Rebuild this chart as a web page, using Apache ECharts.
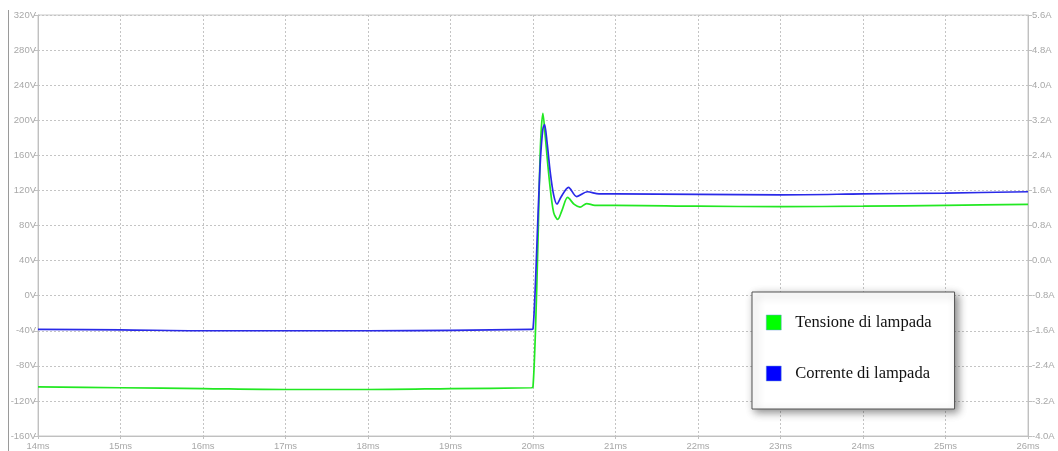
<!DOCTYPE html>
<html>
<head>
<meta charset="utf-8">
<script src="https://cdn.jsdelivr.net/npm/echarts@6/dist/echarts.min.js"></script>
<style>html,body{margin:0;padding:0;background:#fff;}#c{width:1058px;height:451px;}</style>
</head>
<body>
<div id="c"></div>
<script>
// Tensione di lampada (time in ms, voltage in V)
var tVolt = [14, 15, 16, 17, 18, 19, 19.98, 20.0, 20.03, 20.06, 20.09, 20.12, 20.15, 20.2, 20.25, 20.3, 20.35, 20.42, 20.5, 20.57, 20.65, 20.75, 21, 22, 23, 24, 25, 26];
var volt  = [-104, -105, -106, -107, -107, -106, -105, -104, -40, 60, 170, 208, 180, 130, 95, 87, 97, 112, 104, 101, 105, 103, 103, 102, 101.5, 102, 103, 104];
// Corrente di lampada (time in ms, current in A)
var tCurr = [14, 15, 16, 17, 18, 19, 19.98, 20.0, 20.03, 20.06, 20.09, 20.12, 20.14, 20.17, 20.21, 20.25, 20.29, 20.34, 20.43, 20.53, 20.66, 20.8, 21, 22, 23, 24, 25, 26];
var curr  = [-1.57, -1.58, -1.6, -1.6, -1.6, -1.59, -1.57, -1.56, -0.5, 1.0, 2.3, 3.0, 3.1, 2.7, 2.0, 1.5, 1.29, 1.45, 1.67, 1.46, 1.57, 1.52, 1.52, 1.51, 1.5, 1.52, 1.54, 1.57];
var seriesNames = ['Tensione di lampada', 'Corrente di lampada'];

function pairs(t, v) { return t.map(function (x, i) { return [x, v[i]]; }); }

var chart = echarts.init(document.getElementById('c'));
var labelStyle = { color: '#a8a8a8', fontSize: 9.5, fontFamily: 'Liberation Sans' };
var split = { show: true, lineStyle: { color: '#c4c4c4', type: [2, 2], width: 1 } };
chart.setOption({
  animation: false,
  backgroundColor: '#fff',
  grid: { left: 38, right: 30, top: 15, bottom: 13, show: true, borderColor: '#c8c8c8', borderWidth: 1 },
  xAxis: {
    type: 'value', min: 14, max: 26, interval: 1,
    axisLine: { show: true, onZero: false, lineStyle: { color: '#c0c0c0' } },
    axisTick: { show: true, length: 3, lineStyle: { color: '#c0c0c0' } },
    axisLabel: Object.assign({ formatter: '{value}ms', margin: 5 }, labelStyle),
    splitLine: split
  },
  yAxis: [{
    type: 'value', min: -160, max: 320, interval: 40, position: 'left',
    axisLine: { show: true, onZero: false, lineStyle: { color: '#c0c0c0' } },
    axisTick: { show: true, length: 4, lineStyle: { color: '#c0c0c0' } },
    axisLabel: Object.assign({ formatter: '{value}V', margin: 2 }, labelStyle),
    splitLine: split
  }, {
    type: 'value', min: -4.0, max: 5.6, interval: 0.8, position: 'right',
    axisLine: { show: true, onZero: false, lineStyle: { color: '#c0c0c0' } },
    axisTick: { show: true, length: 4, lineStyle: { color: '#c0c0c0' } },
    axisLabel: Object.assign({ formatter: function (v) { return v.toFixed(1) + 'A'; }, margin: 4 }, labelStyle),
    splitLine: { show: false }
  }],
  legend: {
    orient: 'vertical', left: 752, top: 292,
    data: [
      { name: seriesNames[0], itemStyle: { color: '#00ff00', borderColor: '#6a9ad8', borderWidth: 0.5 } },
      { name: seriesNames[1], itemStyle: { color: '#0000ff', borderColor: '#6a9ad8', borderWidth: 0.5 } }
    ],
    icon: 'rect', itemWidth: 15, itemHeight: 15, itemGap: 34,
    padding: [22, 23, 27, 14],
    backgroundColor: '#fff', borderColor: '#555', borderWidth: 1,
    shadowBlur: 8, shadowOffsetX: 3, shadowOffsetY: 3, shadowColor: 'rgba(0,0,0,0.45)',
    textStyle: { fontFamily: 'Liberation Serif', fontSize: 16.5, color: '#111', padding: [0, 0, 0, 9] },
    selectedMode: false
  },
  series: [{
    name: seriesNames[0], type: 'line', yAxisIndex: 0, showSymbol: false, smooth: 0.3,
    data: pairs(tVolt, volt),
    lineStyle: { color: '#22e822', width: 1.7 }, itemStyle: { color: '#00ff00' }
  }, {
    name: seriesNames[1], type: 'line', yAxisIndex: 1, showSymbol: false, smooth: 0.3,
    data: pairs(tCurr, curr),
    lineStyle: { color: '#2a2ae8', width: 1.7 }, itemStyle: { color: '#0000ff' }
  }],
  graphic: [{
    type: 'line', shape: { x1: 8.5, y1: 10, x2: 8.5, y2: 451 },
    style: { stroke: '#9a9a9a', lineWidth: 1 }
  }]
});
</script>
</body>
</html>
